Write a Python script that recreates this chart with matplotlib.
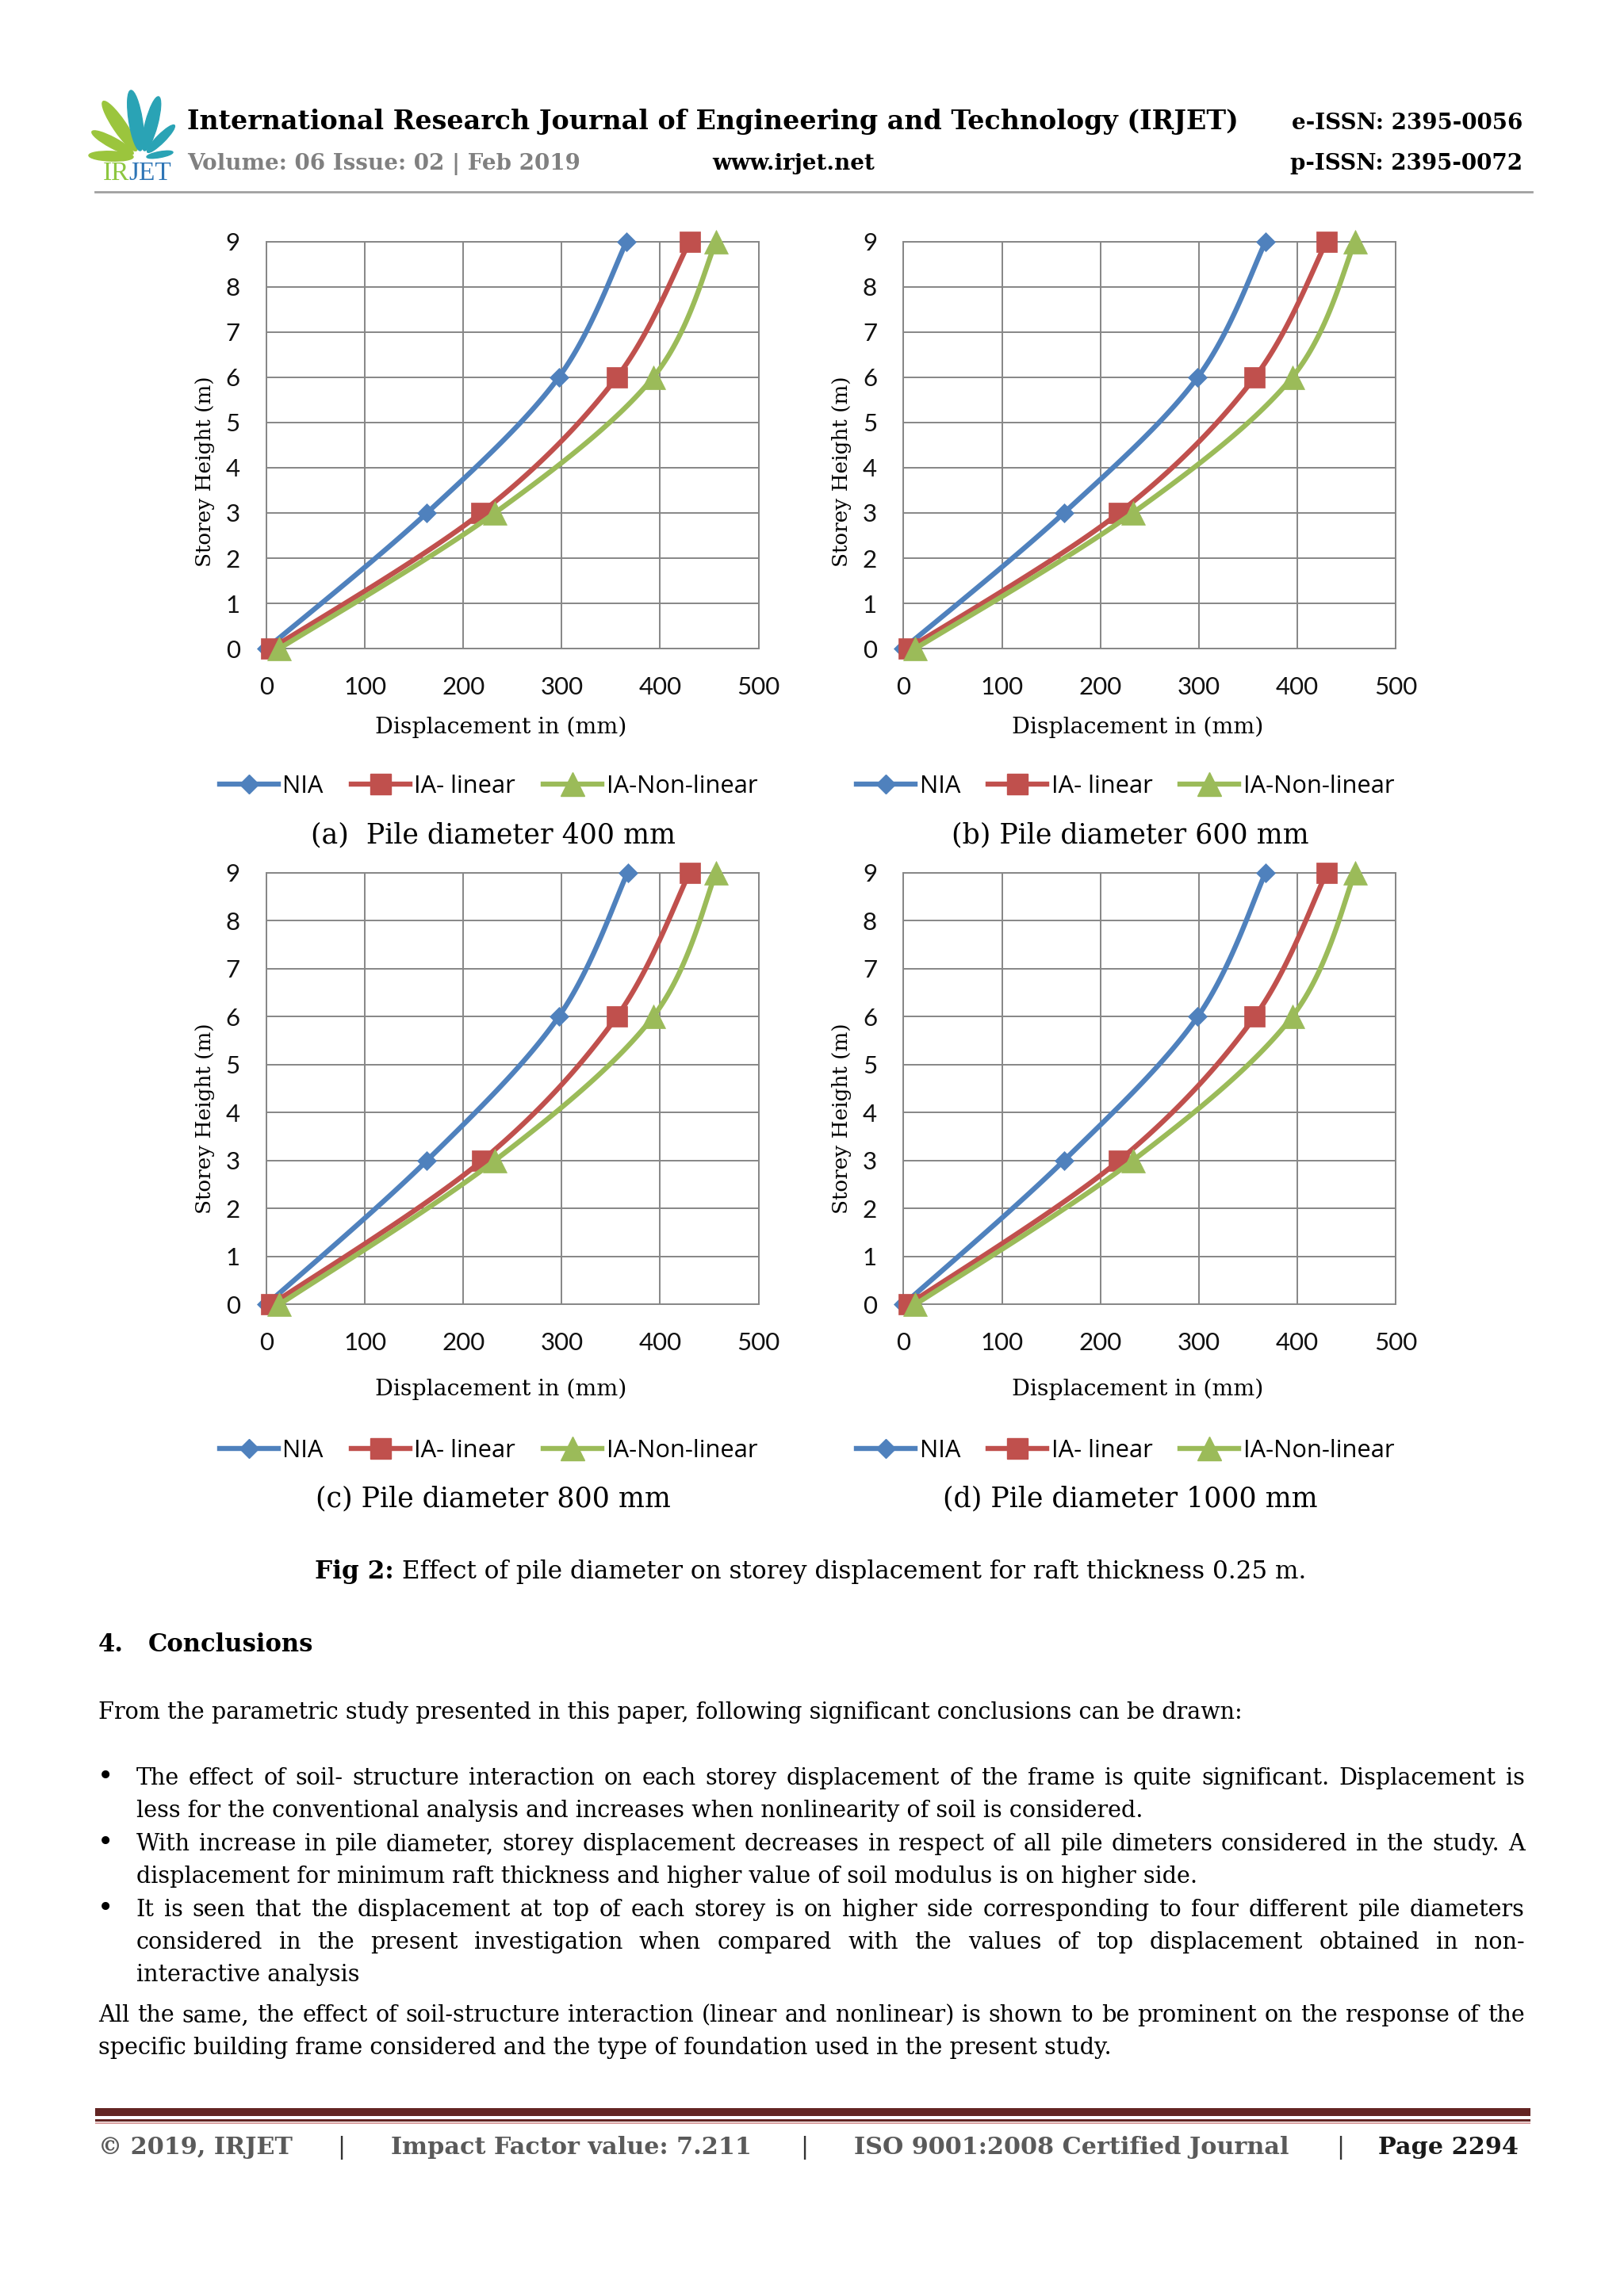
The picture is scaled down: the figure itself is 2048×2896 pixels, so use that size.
import numpy as np
import matplotlib
matplotlib.use("Agg")
import matplotlib.pyplot as plt
from matplotlib.patches import Ellipse, Rectangle
from matplotlib.lines import Line2D
from matplotlib.transforms import Affine2D

# ---------------- data ----------------
storey_height = [0, 3, 6, 9]
legend_labels = ["NIA", "IA- linear", "IA-Non-linear"]
x_ticks = [0, 100, 200, 300, 400, 500]
y_ticks = [0, 1, 2, 3, 4, 5, 6, 7, 8, 9]

nia_400 = [0, 163, 297, 366]
ia_lin_400 = [5, 218, 356, 430]
ia_non_400 = [13, 232, 393, 457]

nia_600 = [0, 163, 299, 368]
ia_lin_600 = [5, 219, 357, 430]
ia_non_600 = [12, 233, 395, 459]

nia_800 = [0, 163, 297, 367]
ia_lin_800 = [5, 219, 356, 430]
ia_non_800 = [13, 232, 393, 457]

nia_1000 = [0, 163, 299, 368]
ia_lin_1000 = [5, 219, 357, 430]
ia_non_1000 = [12, 233, 395, 459]

panel_captions = ["(a)  Pile diameter 400 mm", "(b) Pile diameter 600 mm",
                  "(c) Pile diameter 800 mm", "(d) Pile diameter 1000 mm"]
x_label = "Displacement in (mm)"
y_label = "Storey Height (m)"

# ---------------- page setup ----------------
W, H = 2048, 2896
S = 2048 / 1109.0          # reference-preview px -> full px
SERIF = "DejaVu Serif"
SANS = "Lato"
LEGF = "Open Sans"
COLORS = ["#4F81BD", "#C0504D", "#9BBB59"]
MARKERS = ["D", "s", "^"]
MSIZES = [12.5, 19, 21]
LW = 4.6
GRID = "#868686"

fig = plt.figure(figsize=(W / 100, H / 100), dpi=100)
fig.patch.set_facecolor("white")
renderer = fig.canvas.get_renderer()


def fx(p):
    return p * S / W


def fy(p):
    return 1 - p * S / H


def text_width(s, size=10, **kw):
    t = fig.text(0, 0, s, fontsize=size, **kw)
    w = t.get_window_extent(renderer).width
    t.remove()
    return w


def fit_size(s, target, **kw):
    return 10 * (target * S) / text_width(s, 10, **kw)


def put(x, y, s, size, **kw):
    kw.setdefault("va", "baseline")
    return fig.text(fx(x), fy(y), s, fontsize=size, **kw)


def justify(line, x0, x1, y, size, **kw):
    words = line.split(" ")
    ts = [fig.text(0, fy(y), w, fontsize=size, va="baseline", ha="left", **kw) for w in words]
    ws = [t.get_window_extent(renderer).width for t in ts]
    gap = ((x1 - x0) * S - sum(ws)) / (len(words) - 1)
    xp = x0 * S
    for t, w in zip(ts, ws):
        t.set_x(xp / W)
        xp += w + gap


def smooth(xs, ys, sx, sy, n=40):
    P = np.column_stack([np.asarray(xs, float) * sx, np.asarray(ys, float) * sy])
    P = np.vstack([P[0], P, P[-1]])
    out = []
    t = np.linspace(0, 1, n)[:, None]
    for i in range(1, len(P) - 2):
        p0, p1, p2, p3 = P[i - 1], P[i], P[i + 1], P[i + 2]
        seg = 0.5 * ((2 * p1) + (-p0 + p2) * t + (2 * p0 - 5 * p1 + 4 * p2 - p3) * t ** 2
                     + (-p0 + 3 * p1 - 3 * p2 + p3) * t ** 3)
        out.append(seg if i == 1 else seg[1:])
    out = np.vstack(out)
    return out[:, 0] / sx, out[:, 1] / sy


# ---------------- header ----------------
# logo leaves (full px: base -> tip)
leaves = [((172, 190), (130, 128), "#9BC53D"),
          ((177, 190), (165, 114), "#2AA3B5"),
          ((182, 190), (200, 122), "#2AA3B5"),
          ((186, 192), (220, 158), "#2AA3B5"),
          ((168, 194), (116, 166), "#9BC53D"),
          ((168, 198), (112, 196), "#9BC53D"),
          ((185, 198), (218, 192), "#2AA3B5")]
for (x0, y0), (x1, y1), c in leaves:
    cx, cy = (x0 + x1) / 2, (y0 + y1) / 2
    L = np.hypot(x1 - x0, y1 - y0)
    ang = np.degrees(np.arctan2(-(y1 - y0), x1 - x0))
    e = Ellipse((0, 0), width=L, height=L * 0.22, angle=ang, color=c,
                transform=Affine2D().translate(cx, H - cy))
    fig.add_artist(e)

lsz = fit_size("IRJET", 117 - 70, family="Liberation Serif")
wir = text_width("IR", lsz, family="Liberation Serif") / S
put(70, 123, "IR", lsz, family="Liberation Serif", color="#8DC63F")
put(70 + wir, 123, "JET", lsz, family="Liberation Serif", color="#2E75B6")

title = "International Research Journal of Engineering and Technology (IRJET)"
ts = fit_size(title, 848 - 128, family=SERIF, weight="bold")
put(128, 88, title, ts, family=SERIF, weight="bold")
hs = fit_size("e-ISSN: 2395-0056", 1040 - 882, family=SERIF, weight="bold")
put(1040, 88, "e-ISSN: 2395-0056", hs, family=SERIF, weight="bold", ha="right")
put(1040, 116, "p-ISSN: 2395-0072", hs, family=SERIF, weight="bold", ha="right")
vs = fit_size("Volume: 06 Issue: 02 | Feb 2019", 397 - 128, family=SERIF, weight="bold")
put(128, 116, "Volume: 06 Issue: 02 | Feb 2019", vs, family=SERIF, weight="bold", color="#808080")
put(542, 116, "www.irjet.net", vs, family=SERIF, weight="bold", ha="center")
fig.add_artist(Line2D([fx(65), fx(1046)], [fy(131), fy(131)], color="#A0A0A0", lw=2.0,
                      transform=fig.transFigure))

# ---------------- charts ----------------
panels = [
    dict(box=(182, 518, 165, 443), ylab=(140, 322), xlab=(342, 497), leg=(150, 537), cap=(337, 576),
         data=(nia_400, ia_lin_400, ia_non_400)),
    dict(box=(617, 953, 165, 443), ylab=(575, 322), xlab=(777, 497), leg=(585, 537), cap=(772, 576),
         data=(nia_600, ia_lin_600, ia_non_600)),
    dict(box=(182, 518, 596, 891), ylab=(140, 764), xlab=(342, 949), leg=(150, 991), cap=(337, 1029),
         data=(nia_800, ia_lin_800, ia_non_800)),
    dict(box=(617, 953, 596, 891), ylab=(575, 764), xlab=(777, 949), leg=(585, 991), cap=(772, 1029),
         data=(nia_1000, ia_lin_1000, ia_non_1000)),
]

xl_size = fit_size(x_label, 173, family=SERIF)
yl_size = fit_size(y_label, 130, family=SERIF)
cap_size = fit_size(panel_captions[1], 894 - 650, family=SERIF)
leg_size = fit_size("IA-Non-linear", 513 - 410, family=LEGF)

for i, p in enumerate(panels):
    l, r, t, b = p["box"]
    ax = fig.add_axes([fx(l), fy(b), (r - l) * S / W, (b - t) * S / H])
    ax.set_xlim(0, 500)
    ax.set_ylim(0, 9)
    ax.set_xticks(x_ticks)
    ax.set_yticks(y_ticks)
    ax.grid(True, color=GRID, lw=1.4)
    ax.set_axisbelow(True)
    for sp in ax.spines.values():
        sp.set_color(GRID)
        sp.set_linewidth(1.4)
    ax.tick_params(length=0, labelsize=22.5, colors="#111111")
    ax.tick_params(axis="y", pad=24)
    ax.tick_params(axis="x", pad=25)
    for lab in ax.get_xticklabels() + ax.get_yticklabels():
        lab.set_family(SANS)
    sx = (r - l) * S / 500.0
    sy = (b - t) * S / 9.0
    handles = []
    for k, series in enumerate(p["data"]):
        xs, ys = smooth(series, storey_height, sx, sy)
        ax.plot(xs, ys, color=COLORS[k], lw=LW, solid_capstyle="round", clip_on=False, zorder=3 + k)
        ax.plot(series, storey_height, ls="none", marker=MARKERS[k], ms=MSIZES[k],
                color=COLORS[k], mec=COLORS[k], mew=0.5, clip_on=False, zorder=3 + k)
        handles.append(Line2D([], [], color=COLORS[k], lw=LW, marker=MARKERS[k],
                              ms=MSIZES[k], mec=COLORS[k]))
    fig.text(fx(p["ylab"][0]), fy(p["ylab"][1]), y_label, rotation=90, ha="center", va="center",
             fontsize=yl_size, family=SERIF)
    fig.text(fx(p["xlab"][0]), fy(p["xlab"][1]), x_label, ha="center", va="center",
             fontsize=xl_size, family=SERIF)
    em = leg_size * 100 / 72.0
    fig.legend(handles, legend_labels, loc="center left",
               bbox_to_anchor=(fx(p["leg"][0]), fy(p["leg"][1])), bbox_transform=fig.transFigure,
               ncol=3, frameon=False, borderpad=0, borderaxespad=0,
               handlelength=40 * S / em, handletextpad=3 * S / em, columnspacing=19 * S / em,
               numpoints=1, prop=dict(family=LEGF, size=leg_size))
    put(p["cap"][0], p["cap"][1], panel_captions[i], cap_size, family=SERIF, ha="center")

# ---------------- caption and conclusions ----------------
fig_bold = "Fig 2:"
fig_rest = " Effect of pile diameter on storey displacement for raft thickness 0.25 m."
wb = text_width(fig_bold, 10, family=SERIF, weight="bold")
wr = text_width(fig_rest, 10, family=SERIF)
fsz = 10 * (893 - 215) * S / (wb + wr)
put(215, 1078, fig_bold, fsz, family=SERIF, weight="bold")
put(215 + wb * fsz / 10 / S, 1078, fig_rest, fsz, family=SERIF)

csz = fit_size("Conclusions", 214 - 101, family=SERIF, weight="bold")
put(67, 1128, "4.", csz, family=SERIF, weight="bold")
put(101, 1128, "Conclusions", csz, family=SERIF, weight="bold")

para0 = "From the parametric study presented in this paper, following significant conclusions can be drawn:"
bsz = fit_size(para0, 852 - 67, family=SERIF)
put(67, 1174, para0, bsz, family=SERIF)

body = [
    ("The effect of soil- structure interaction on each storey displacement of the frame is quite significant. Displacement is", 93, 1041, 1219, True, True),
    ("less for the conventional analysis and increases when nonlinearity of soil is considered.", 93, None, 1241, False, False),
    ("With increase in pile diameter, storey displacement decreases in respect of all pile dimeters considered in the study. A", 93, 1041, 1264, True, True),
    ("displacement for minimum raft thickness and higher value of soil modulus is on higher side.", 93, None, 1286, False, False),
    ("It is seen that the displacement at top of each storey is on higher side corresponding to four different pile diameters", 93, 1041, 1309, True, True),
    ("considered in the present investigation when compared with the values of top displacement obtained in non-", 93, 1041, 1331, True, False),
    ("interactive analysis", 93, None, 1353, False, False),
    ("All the same, the effect of soil-structure interaction (linear and nonlinear) is shown to be prominent on the response of the", 67, 1041, 1381, True, False),
    ("specific building frame considered and the type of foundation used in the present study.", 67, None, 1403, False, False),
]
for line, x0, x1, y, just, bullet in body:
    if just:
        justify(line, x0, x1, y, bsz, family=SERIF)
    else:
        put(x0, y, line, bsz, family=SERIF)
    if bullet:
        put(72, y, "\u2022", bsz * 1.2, family=SERIF, ha="center")

# ---------------- footer ----------------
fig.add_artist(Rectangle((fx(65), fy(1445.5)), (1045 - 65) * S / W, 10 / H, color="#632523",
                         transform=fig.transFigure, lw=0))
fig.add_artist(Rectangle((fx(65), fy(1449)), (1045 - 65) * S / W, 3 / H, color="#632523",
                         transform=fig.transFigure, lw=0))
fig.add_artist(Rectangle((fx(65), fy(1450.5)), (1045 - 65) * S / W, 2 / H, color="#D9A0A0",
                         transform=fig.transFigure, lw=0))

fsz2 = fit_size("ISO 9001:2008 Certified Journal", 881 - 583, family=SERIF, weight="bold")
FG = "#5A5A5A"
put(67, 1471, "\u00a9 2019, IRJET", fsz2, family=SERIF, weight="bold", color=FG)
put(267, 1471, "Impact Factor value: 7.211", fsz2, family=SERIF, weight="bold", color=FG)
put(583, 1471, "ISO 9001:2008 Certified Journal", fsz2, family=SERIF, weight="bold", color=FG)
put(1037, 1471, "Page 2294", fsz2, family=SERIF, weight="bold", color="#1a1a1a", ha="right")
for xp in (233, 549, 915):
    put(xp, 1471, "|", fsz2, family=SERIF, color="#333333", ha="center")

fig.savefig("out.png", dpi=100, facecolor="white")
